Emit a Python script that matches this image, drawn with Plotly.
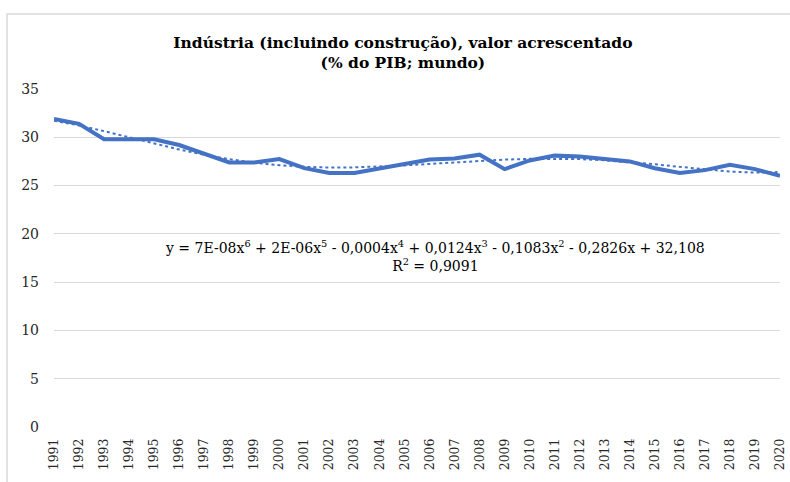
import numpy as np
import plotly.graph_objects as go

years = [str(y) for y in range(1991, 2021)]
values = [31.9, 31.4, 29.8, 29.8, 29.8, 29.2, 28.3, 27.4, 27.4, 27.75,
          26.8, 26.3, 26.3, 26.8, 27.2, 27.7, 27.8, 28.2, 26.7, 27.6,
          28.1, 28.0, 27.75, 27.5, 26.8, 26.3, 26.6, 27.15, 26.7, 26.0]
y_ticks = [0, 5, 10, 15, 20, 25, 30, 35]

title_text = "<b>Indústria (incluindo construção), valor acrescentado<br>(% do PIB; mundo)</b>"
eq_text = ("y = 7E-08x<sup>6</sup> + 2E-06x<sup>5</sup> - 0,0004x<sup>4</sup> + 0,0124x<sup>3</sup>"
           " - 0,1083x<sup>2</sup> - 0,2826x + 32,108<br>R<sup>2</sup> = 0,9091")

# polynomial (order 6) trendline fitted to the series
xs = np.arange(1, len(values) + 1)
coef = np.polyfit(xs, values, 6)
trend = np.polyval(coef, xs)

BLUE = "#4472C4"
FONT = "DejaVu Serif"

fig = go.Figure()
fig.add_trace(go.Scatter(x=years, y=values, mode="lines",
                         line=dict(color=BLUE, width=4), showlegend=False))
fig.add_trace(go.Scatter(x=years, y=trend, mode="lines",
                         line=dict(color=BLUE, width=2, dash="dot"), showlegend=False))

fig.update_layout(
    width=790, height=482,
    margin=dict(l=54, r=10, t=89, b=55, autoexpand=False),
    paper_bgcolor="white", plot_bgcolor="white",
    font=dict(family=FONT, color="#262626", size=12),
    title=dict(text=title_text, x=0.51, xanchor="center", y=0.9, yanchor="middle",
               font=dict(family=FONT, size=15.5, color="#000000")),
    xaxis=dict(type="category", tickangle=-90, showgrid=False, zeroline=False,
               showline=False, ticks="", ticklabelstandoff=8, automargin=False,
               tickfont=dict(size=12.5, family=FONT)),
    yaxis=dict(range=[0, 35], tickvals=y_ticks, showgrid=True, gridcolor="#D9D9D9",
               gridwidth=1, zeroline=False, showline=False, ticks="",
               ticklabelstandoff=14, automargin=False, tickfont=dict(size=14, family=FONT)),
    annotations=[dict(text=eq_text, xref="paper", yref="paper", x=0.525, y=0.506,
                      xanchor="center", yanchor="middle", showarrow=False,
                      align="center", font=dict(family=FONT, size=14, color="#000000"))],
    shapes=[dict(type="rect", xref="paper", yref="paper",
                 x0=-0.0647, x1=1.03, y0=-0.2, y1=1.222,
                 line=dict(color="#D9D9D9", width=1.5), fillcolor="rgba(0,0,0,0)",
                 layer="below")],
)

fig.write_html("out.html", config={"displayModeBar": False},
               post_script="document.body.style.margin='0';")
